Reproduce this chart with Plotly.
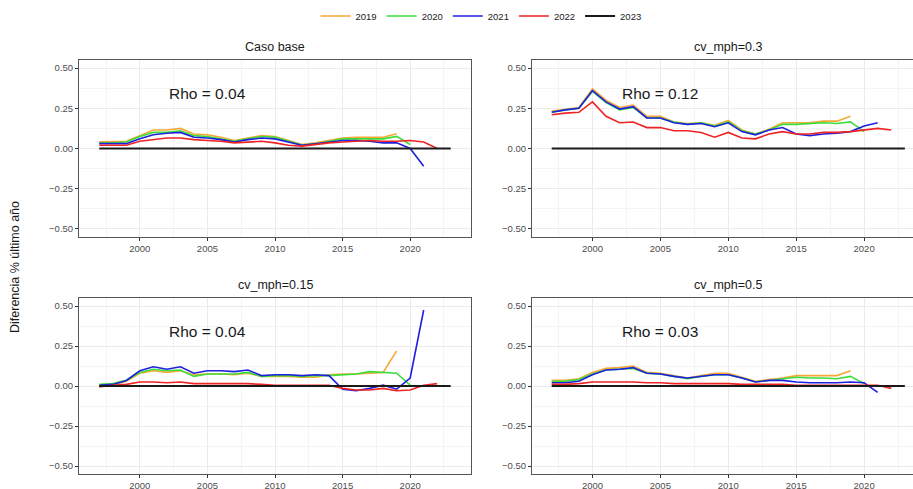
import plotly.graph_objects as go

years = list(range(1997, 2024))
series_names = ["2019", "2020", "2021", "2022", "2023"]
series_colors = ["#F5A836", "#3BDD3B", "#1F1FE0", "#EE2424", "#1a1a1a"]
panel_titles = ["Caso base", "cv_mph=0.3", "cv_mph=0.15", "cv_mph=0.5"]
rho_labels = ["Rho = 0.04", "Rho = 0.12", "Rho = 0.04", "Rho = 0.03"]
y_ticks = [-0.5, -0.25, 0.0, 0.25, 0.5]
x_ticks = [2000, 2005, 2010, 2015, 2020]

# Panel 1: Caso base
c1_2019 = [0.042, 0.042, 0.045, 0.08, 0.115, 0.115, 0.125, 0.09, 0.085, 0.07, 0.05, 0.065, 0.08, 0.075, 0.05, 0.025, 0.035, 0.05, 0.065, 0.07, 0.07, 0.07, 0.092]
c1_2020 = [0.035, 0.035, 0.04, 0.075, 0.1, 0.1, 0.11, 0.08, 0.075, 0.06, 0.045, 0.06, 0.075, 0.07, 0.045, 0.022, 0.03, 0.045, 0.06, 0.06, 0.06, 0.06, 0.075, 0.025]
c1_2021 = [0.03, 0.03, 0.03, 0.06, 0.085, 0.095, 0.1, 0.07, 0.065, 0.055, 0.04, 0.055, 0.065, 0.06, 0.04, 0.02, 0.03, 0.04, 0.05, 0.05, 0.045, 0.035, 0.035, 0.0, -0.11]
c1_2022 = [0.02, 0.02, 0.02, 0.045, 0.055, 0.065, 0.065, 0.055, 0.05, 0.045, 0.035, 0.04, 0.045, 0.035, 0.02, 0.015, 0.025, 0.035, 0.04, 0.045, 0.05, 0.045, 0.045, 0.05, 0.04, 0.0]

# Panel 2: cv_mph=0.3
c2_2019 = [0.233, 0.245, 0.255, 0.37, 0.3, 0.255, 0.27, 0.2, 0.2, 0.165, 0.155, 0.16, 0.145, 0.175, 0.115, 0.09, 0.12, 0.16, 0.16, 0.16, 0.17, 0.17, 0.2]
c2_2020 = [0.225, 0.24, 0.25, 0.355, 0.285, 0.24, 0.255, 0.19, 0.19, 0.165, 0.15, 0.16, 0.14, 0.165, 0.11, 0.09, 0.115, 0.15, 0.15, 0.155, 0.16, 0.155, 0.165, 0.105]
c2_2021 = [0.225, 0.24, 0.25, 0.36, 0.29, 0.245, 0.26, 0.19, 0.19, 0.16, 0.15, 0.155, 0.135, 0.16, 0.105, 0.085, 0.115, 0.13, 0.09, 0.08, 0.09, 0.095, 0.105, 0.14, 0.16]
c2_2022 = [0.21, 0.22, 0.225, 0.29, 0.2, 0.16, 0.165, 0.13, 0.13, 0.11, 0.11, 0.1, 0.07, 0.1, 0.065, 0.06, 0.09, 0.105, 0.09, 0.09, 0.1, 0.1, 0.105, 0.115, 0.125, 0.115]

# Panel 3: cv_mph=0.15
c3_2019 = [-0.005, 0.005, 0.03, 0.08, 0.095, 0.085, 0.095, 0.07, 0.075, 0.075, 0.07, 0.08, 0.06, 0.06, 0.06, 0.055, 0.055, 0.07, 0.075, 0.075, 0.08, 0.085, 0.22]
c3_2020 = [0.01, 0.015, 0.035, 0.085, 0.105, 0.095, 0.1, 0.06, 0.075, 0.075, 0.075, 0.085, 0.06, 0.065, 0.065, 0.06, 0.065, 0.065, 0.07, 0.075, 0.09, 0.085, 0.08, 0.005]
c3_2021 = [0.005, 0.01, 0.035, 0.095, 0.12, 0.105, 0.12, 0.08, 0.095, 0.095, 0.09, 0.1, 0.065, 0.07, 0.07, 0.065, 0.07, 0.065, -0.02, -0.03, -0.015, 0.005, -0.02, 0.05, 0.475]
c3_2022 = [-0.005, 0.005, 0.01, 0.025, 0.025, 0.02, 0.025, 0.015, 0.015, 0.015, 0.015, 0.015, 0.01, 0.005, 0.005, 0.005, 0.005, 0.005, -0.015, -0.025, -0.025, -0.015, -0.03, -0.025, 0.005, 0.015]

# Panel 4: cv_mph=0.5
c4_2019 = [0.035, 0.035, 0.045, 0.085, 0.11, 0.115, 0.125, 0.085, 0.08, 0.065, 0.05, 0.065, 0.08, 0.08, 0.055, 0.03, 0.04, 0.05, 0.065, 0.065, 0.065, 0.065, 0.095]
c4_2020 = [0.03, 0.03, 0.04, 0.075, 0.1, 0.105, 0.11, 0.08, 0.075, 0.06, 0.045, 0.06, 0.07, 0.07, 0.05, 0.025, 0.035, 0.045, 0.055, 0.05, 0.05, 0.045, 0.06, 0.015]
c4_2021 = [0.02, 0.02, 0.03, 0.07, 0.1, 0.105, 0.115, 0.08, 0.075, 0.06, 0.05, 0.06, 0.07, 0.07, 0.05, 0.025, 0.035, 0.035, 0.025, 0.02, 0.02, 0.02, 0.025, 0.02, -0.04]
c4_2022 = [0.01, 0.01, 0.015, 0.025, 0.025, 0.025, 0.025, 0.02, 0.02, 0.015, 0.015, 0.015, 0.015, 0.015, 0.01, 0.01, 0.01, 0.01, 0.005, 0.005, 0.005, 0.005, 0.005, 0.005, 0.005, -0.015]

# 2023 reference (last year) is zero everywhere
ref_2023 = [0.0, 0.0, 0.0, 0.0, 0.0, 0.0, 0.0, 0.0, 0.0, 0.0, 0.0, 0.0, 0.0, 0.0, 0.0, 0.0, 0.0, 0.0, 0.0, 0.0, 0.0, 0.0, 0.0, 0.0, 0.0, 0.0, 0.0]

panels = [
    [c1_2019, c1_2020, c1_2021, c1_2022, ref_2023],
    [c2_2019, c2_2020, c2_2021, c2_2022, ref_2023],
    [c3_2019, c3_2020, c3_2021, c3_2022, ref_2023],
    [c4_2019, c4_2020, c4_2021, c4_2022, ref_2023],
]

W, H = 913, 489
# pixel boxes of panels (left, right, top, bottom)
boxes = [
    (79, 471, 60, 237),
    (532, 913, 60, 237),
    (79, 471, 298, 474),
    (532, 913, 298, 474),
]
x_ranges = [
    [1995.5, 2024.5],
    [1995.55, 2023.6],
    [1995.5, 2024.5],
    [1995.55, 2023.6],
]

fig = go.Figure()
font_family = "Liberation Sans, Arial, Helvetica, sans-serif"

for p, (series, box) in enumerate(zip(panels, boxes)):
    idx = "" if p == 0 else str(p + 1)
    for s, (name, color, vals) in enumerate(zip(series_names, series_colors, series)):
        fig.add_trace(go.Scatter(
            x=years[:len(vals)], y=vals, mode="lines",
            line=dict(color=color, width=2.2 if name == "2023" else 1.6),
            name=name, legendgroup=name, showlegend=(p == 0),
            xaxis="x" + idx, yaxis="y" + idx,
        ))
    l, r, t, b = box
    right_clipped = r >= W
    fig.layout["xaxis" + idx] = dict(
        domain=[l / W, r / W], range=x_ranges[p], anchor="y" + idx,
        tickvals=x_ticks, ticks="outside", ticklen=3, tickcolor="#333333",
        tickfont=dict(size=9.5, color="#4d4d4d", family=font_family),
        showgrid=True, gridcolor="#ebebeb", gridwidth=1,
        minor=dict(dtick=2.5, tick0=2000, showgrid=True, gridcolor="#f4f4f4", gridwidth=0.8),
        showline=True, linecolor="#555555", linewidth=1, mirror=True,
        zeroline=False, automargin=False, fixedrange=True,
    )
    fig.layout["yaxis" + idx] = dict(
        domain=[1 - b / H, 1 - t / H], range=[-0.55, 0.55], anchor="x" + idx,
        tickvals=y_ticks, tickformat=".2f", ticks="outside", ticklen=3, tickcolor="#333333",
        tickfont=dict(size=9.5, color="#4d4d4d", family=font_family),
        showgrid=True, gridcolor="#ebebeb", gridwidth=1,
        minor=dict(dtick=0.125, tick0=0, showgrid=True, gridcolor="#f4f4f4", gridwidth=0.8),
        showline=True, linecolor="#555555", linewidth=1,
        mirror=(False if right_clipped else True),
        zeroline=False, automargin=False, fixedrange=True,
    )
    # panel title
    cx = (l + (r if not right_clipped else l + 392)) / 2
    fig.add_annotation(
        x=cx / W, y=1 - (t - 13) / H, xref="paper", yref="paper",
        text=panel_titles[p], showarrow=False, xanchor="center", yanchor="middle",
        font=dict(size=12.5, color="#1a1a1a", family=font_family),
    )
    # Rho annotation
    fig.add_annotation(
        x=2005, y=0.34, xref="x" + idx, yref="y" + idx,
        text=rho_labels[p], showarrow=False, xanchor="center", yanchor="middle",
        font=dict(size=15.5, color="#1a1a1a", family=font_family),
    )

# y axis title
fig.add_annotation(
    x=15 / W, y=1 - 267 / H, xref="paper", yref="paper",
    text="Diferencia % último año", textangle=-90, showarrow=False,
    xanchor="center", yanchor="middle",
    font=dict(size=12.5, color="#1a1a1a", family=font_family),
)

fig.update_layout(
    width=W, height=H,
    margin=dict(l=0, r=0, t=0, b=0),
    paper_bgcolor="white", plot_bgcolor="white",
    showlegend=True,
    legend=dict(
        orientation="h", x=481 / W, xanchor="center", y=1 - 16 / H, yanchor="middle",
        font=dict(size=9.5, color="#1a1a1a", family=font_family),
        itemwidth=30, bgcolor="rgba(0,0,0,0)", tracegroupgap=0,
    ),
)

fig.write_html("out.html")
